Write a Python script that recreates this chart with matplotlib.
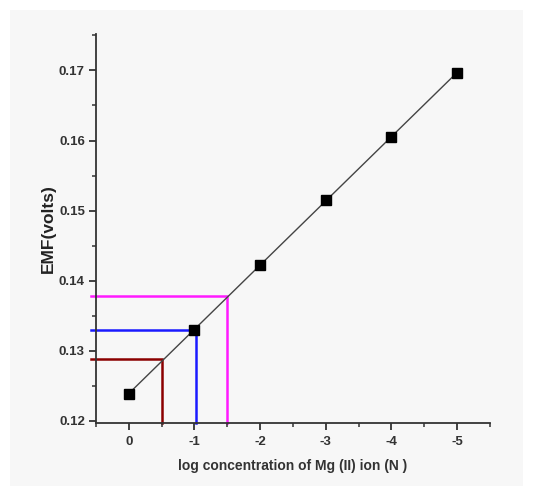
import numpy as np
import matplotlib
matplotlib.use("Agg")
import matplotlib.pyplot as plt
from matplotlib.patches import Rectangle

# Data
log_conc = [0, -1, -2, -3, -4, -5]
emf = [0.1239, 0.1330, 0.1423, 0.1515, 0.1605, 0.1697]
x_ticks = [0, -1, -2, -3, -4, -5]
y_ticks = [0.12, 0.13, 0.14, 0.15, 0.16, 0.17]

# Guide lines (x, y) reading off the calibration line
guide_x = [-0.5, -1.02, -1.5]
guide_y = [0.1289, 0.1329, 0.1378]
guide_colors = ["#8b0000", "#1a1aff", "#ff1aff"]

plt.rcParams['font.family'] = ['Liberation Sans', 'DejaVu Sans']

fig = plt.figure(figsize=(5.33, 4.95), dpi=100)
fig.patch.set_facecolor("white")
fig.patches.append(Rectangle((10/533, 1-486/495), 513/533, 476/495,
                             transform=fig.transFigure, facecolor="#f7f7f7",
                             edgecolor="none", zorder=-10))

ax = fig.add_axes([96/533, 1-423/495, 394/533, 389/495])
ax.set_facecolor("none")

xmin, xmax = 0.5, -5.5
ymin, ymax = 0.1197, 0.1752
ax.set_xlim(xmin, xmax)
ax.set_ylim(ymin, ymax)

# Fit line
coef = np.polyfit(log_conc, emf, 1)
xs = np.array([log_conc[0], log_conc[-1]])
ax.plot(xs, np.polyval(coef, xs), color="#444444", lw=1.0, zorder=2)
ax.plot(log_conc, emf, 's', color="black", ms=6.5, zorder=3)

for gx, gy, c in zip(guide_x, guide_y, guide_colors):
    ax.plot([0.58, gx, gx], [gy, gy, ymin], color=c, lw=1.8,
            clip_on=False, zorder=1, solid_joinstyle='miter')

for s in ["top", "right"]:
    ax.spines[s].set_visible(False)
for s in ["left", "bottom"]:
    ax.spines[s].set_color("#333333")
    ax.spines[s].set_linewidth(1.3)

ax.set_xticks(x_ticks)
ax.set_xticklabels([str(t) for t in x_ticks])
ax.set_xticks(np.arange(0.5, -5.6, -0.5), minor=True)
ax.set_yticks(y_ticks)
ax.set_yticklabels([f"{t:.2f}" for t in y_ticks])
ax.set_yticks(np.arange(0.125, 0.176, 0.01), minor=True)

ax.tick_params(which="major", direction="out", length=5, width=1.3,
               color="#333333", labelsize=9.5, labelcolor="#333333")
ax.tick_params(axis="y", which="major", pad=3)
ax.tick_params(axis="x", which="major", pad=4.5)
ax.tick_params(which="minor", direction="out", length=3, width=1.1,
               color="#333333")
for lab in ax.get_xticklabels() + ax.get_yticklabels():
    lab.set_fontweight("bold")

ax.set_xlabel("log concentration of Mg (II) ion (N )", fontsize=10,
              fontweight="bold", color="#333333", labelpad=8)
ax.set_ylabel("EMF(volts)", fontsize=12.5, fontweight="bold",
              color="#222222", labelpad=2)

fig.savefig("out.png", dpi=100, facecolor=fig.get_facecolor())
